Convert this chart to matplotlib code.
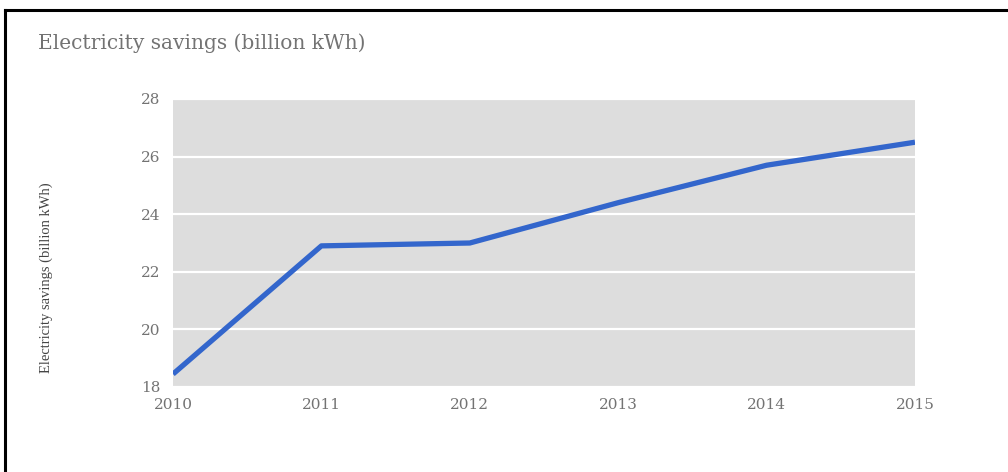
import matplotlib
matplotlib.use("Agg")
import matplotlib.pyplot as plt
from matplotlib.lines import Line2D

years = [2010, 2011, 2012, 2013, 2014, 2015]
savings = [18.45, 22.9, 23.0, 24.4, 25.7, 26.5]
y_ticks = [18, 20, 22, 24, 26, 28]
title = "Electricity savings (billion kWh)"
ylabel = "Electricity savings (billion kWh)"

W, H = 1008, 472
fig = plt.figure(figsize=(W / 100, H / 100), dpi=100)
fig.patch.set_facecolor("white")

serif = ["DejaVu Serif"]
narrow_serif = ["Liberation Serif", "DejaVu Serif"]
gray = "#737373"

ax = fig.add_axes([173 / W, 1 - 387 / H, (915 - 173) / W, (387 - 99) / H])
ax.set_facecolor("#dddddd")
ax.plot(years, savings, color="#3366cc", linewidth=3.8, solid_capstyle="butt",
        solid_joinstyle="round", zorder=3)
ax.set_xlim(2010, 2015)
ax.set_ylim(18, 28)
ax.set_yticks(y_ticks)
ax.set_xticks(years)
ax.set_xticklabels([str(y) for y in years])
for s in ax.spines.values():
    s.set_visible(False)
ax.tick_params(length=0, labelcolor=gray, labelsize=11)
ax.tick_params(axis="y", pad=9)
ax.tick_params(axis="x", pad=8)
for lab in ax.get_xticklabels() + ax.get_yticklabels():
    lab.set_family(serif)
ax.grid(axis="y", color="white", linewidth=1.6, zorder=1)
ax.grid(axis="x", visible=False)
ax.set_axisbelow(True)

fig.text(38 / W, 1 - 43 / H, title, fontsize=14.5, color=gray, family=serif,
         ha="left", va="center")
fig.text(46 / W, 1 - 278 / H, ylabel, fontsize=10.5, color="#444444", family=narrow_serif,
         rotation=90, ha="center", va="center")

# outer frame (top and left edges visible in the reference)
fig.add_artist(Line2D([5 / W, 1], [1 - 10 / H, 1 - 10 / H], transform=fig.transFigure,
                      color="black", linewidth=2.2))
fig.add_artist(Line2D([5 / W, 5 / W], [0, 1 - 10 / H], transform=fig.transFigure,
                      color="black", linewidth=2.2))

fig.savefig("out.png", dpi=100)
